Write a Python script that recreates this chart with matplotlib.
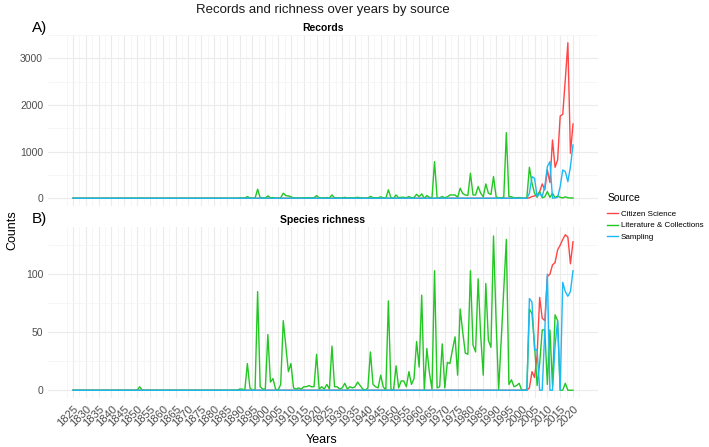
import matplotlib.pyplot as plt
import numpy as np

plt.rcParams['font.family'] = ['Liberation Sans', 'DejaVu Sans']

years = np.arange(1825, 2021)
sources = ['Citizen Science', 'Literature & Collections', 'Sampling']
colors = ['#FF4545', '#22C722', '#1EB8F5']

# Records per year (years not listed are 0)
cit_records = {2003: 10, 2004: 36, 2005: 50, 2006: 70, 2007: 143, 2008: 307, 2009: 178,
               2010: 607, 2011: 335, 2012: 1250, 2013: 664, 2014: 821, 2015: 1764,
               2016: 1800, 2017: 2550, 2018: 3336, 2019: 964, 2020: 1593}
lit_records = {1851: 5, 1890: 5, 1891: 5, 1893: 36, 1894: 5, 1897: 193, 1898: 10, 1899: 5,
               1900: 5, 1901: 50, 1902: 10, 1903: 15, 1904: 2, 1906: 10, 1907: 107, 1908: 57,
               1909: 50, 1910: 30, 1911: 5, 1912: 5, 1913: 8, 1914: 5, 1915: 10, 1916: 10,
               1917: 12, 1918: 10, 1919: 10, 1920: 57, 1921: 5, 1922: 10, 1923: 5, 1924: 15,
               1925: 5, 1926: 71, 1927: 10, 1928: 10, 1929: 5, 1930: 8, 1931: 20, 1932: 5,
               1933: 10, 1934: 8, 1935: 10, 1936: 20, 1937: 10, 1938: 5, 1940: 5, 1941: 40,
               1942: 12, 1943: 10, 1944: 8, 1945: 30, 1946: 10, 1948: 180, 1949: 10,
               1951: 70, 1952: 10, 1953: 20, 1954: 20, 1955: 10, 1956: 36, 1957: 10,
               1958: 15, 1959: 85, 1960: 30, 1961: 93, 1963: 57, 1964: 20, 1965: 5,
               1966: 785, 1967: 10, 1968: 10, 1969: 36, 1970: 10, 1971: 30, 1972: 70,
               1973: 70, 1974: 70, 1975: 20, 1976: 214, 1977: 100, 1978: 70, 1979: 60,
               1980: 535, 1981: 70, 1982: 70, 1983: 250, 1984: 107, 1985: 30, 1986: 307,
               1987: 107, 1988: 80, 1989: 464, 1990: 36, 1992: 10, 1993: 20, 1994: 1407,
               1995: 36, 1996: 30, 1997: 10, 1998: 10, 1999: 15, 2002: 5, 2003: 664,
               2004: 321, 2005: 107, 2006: 20, 2007: 143, 2008: 10, 2009: 30, 2010: 143,
               2011: 20, 2012: 107, 2013: 10, 2014: 50, 2015: 20, 2016: 5, 2017: 30,
               2018: 10, 2019: 5, 2020: 5}
samp_records = {2003: 107, 2004: 464, 2005: 428, 2006: 36, 2007: 107, 2008: 36, 2009: 250,
                2010: 678, 2011: 785, 2013: 10, 2014: 20, 2015: 250, 2016: 607, 2017: 571,
                2018: 357, 2019: 678, 2020: 1143}

# Species richness per year (years not listed are 0)
cit_rich = {2003: 2, 2004: 16, 2005: 11, 2006: 30, 2007: 80, 2008: 62, 2009: 60, 2010: 98,
            2011: 100, 2012: 108, 2013: 110, 2014: 121, 2015: 125, 2016: 130, 2017: 134,
            2018: 132, 2019: 109, 2020: 128}
lit_rich = {1851: 3, 1890: 1, 1891: 1, 1893: 23, 1894: 2, 1897: 85, 1898: 3, 1899: 1,
            1900: 1, 1901: 48, 1902: 7, 1903: 10, 1904: 1, 1906: 5, 1907: 60, 1908: 38,
            1909: 16, 1910: 23, 1911: 2, 1912: 1, 1913: 2, 1914: 1, 1915: 3, 1916: 3,
            1917: 4, 1918: 3, 1919: 3, 1920: 31, 1921: 1, 1922: 3, 1923: 1, 1924: 5,
            1925: 1, 1926: 38, 1927: 3, 1928: 3, 1929: 1, 1930: 2, 1931: 6, 1932: 1,
            1933: 3, 1934: 2, 1935: 3, 1936: 7, 1937: 4, 1938: 1, 1940: 2, 1941: 33,
            1942: 5, 1943: 3, 1944: 2, 1945: 13, 1946: 3, 1948: 77, 1949: 1, 1951: 21,
            1952: 2, 1953: 8, 1954: 8, 1955: 3, 1956: 16, 1957: 5, 1958: 10, 1959: 42,
            1960: 20, 1961: 82, 1963: 36, 1964: 15, 1965: 1, 1966: 103, 1967: 2, 1968: 3,
            1969: 40, 1970: 2, 1971: 24, 1972: 23, 1973: 35, 1974: 46, 1975: 13, 1976: 70,
            1977: 50, 1978: 32, 1979: 31, 1980: 103, 1981: 39, 1982: 33, 1983: 96,
            1984: 47, 1985: 13, 1986: 92, 1987: 43, 1988: 37, 1989: 133, 1990: 60,
            1992: 43, 1993: 87, 1994: 130, 1995: 5, 1996: 9, 1997: 3, 1998: 4, 1999: 6,
            2002: 1, 2003: 70, 2004: 66, 2005: 39, 2006: 4, 2007: 23, 2008: 52, 2009: 52,
            2010: 5, 2011: 52, 2012: 4, 2013: 65, 2014: 60, 2016: 0, 2017: 6}
samp_rich = {2003: 79, 2004: 76, 2005: 35, 2006: 35, 2009: 52, 2010: 100, 2013: 38,
             2014: 60, 2016: 93, 2017: 85, 2018: 81, 2019: 85, 2020: 103}


def series(d):
    return np.array([d.get(y, 0) for y in years])


fig = plt.figure(figsize=(7.09, 4.47), dpi=100)
W, H = 709, 447
grey = '#4D4D4D'


def panel(rect, data, title, ymajor, yminor):
    ax = fig.add_axes(rect)
    for d, c in zip(data, colors):
        ax.plot(years, series(d), color=c, linewidth=1.0)
    top = max(series(d).max() for d in data)
    ax.set_ylim(-0.05 * top, top * 1.05)
    ax.set_xlim(1825 - 9.75, 2020 + 9.75)
    ax.set_xticks(np.arange(1825, 2021, 5))
    ax.set_xticks(np.arange(1822.5, 2025, 5), minor=True)
    ax.set_yticks(ymajor)
    ax.set_yticks(yminor, minor=True)
    ax.grid(True, which='major', color='#EBEBEB', linewidth=0.8)
    ax.grid(True, which='minor', color='#F3F3F3', linewidth=0.5)
    ax.set_axisbelow(True)
    for s in ax.spines.values():
        s.set_visible(False)
    ax.tick_params(which='both', length=0, colors=grey, labelsize=7.5)
    ax.set_title(title, fontsize=7.5, fontweight='bold', pad=3)
    return ax


ax1 = panel([48 / W, 1 - 206 / H, 550 / W, 171 / H],
            [cit_records, lit_records, samp_records], 'Records',
            [0, 1000, 2000, 3000], [500, 1500, 2500, 3500])
ax1.set_xticklabels([])

ax2 = panel([48 / W, 1 - 398 / H, 550 / W, 171 / H],
            [cit_rich, lit_rich, samp_rich], 'Species richness',
            [0, 50, 100], [25, 75, 125])
ax2.set_xticklabels([str(y) for y in np.arange(1825, 2021, 5)],
                    rotation=45, ha='right', va='top', rotation_mode='anchor', fontsize=8)
ax2.tick_params(axis='x', pad=4)

fig.text(323 / W, 1 - 10 / H, 'Records and richness over years by source',
         ha='center', va='center', fontsize=9.5, color='#1A1A1A')
fig.text(32 / W, 1 - 28 / H, 'A)', ha='left', va='center', fontsize=11)
fig.text(32 / W, 1 - 219 / H, 'B)', ha='left', va='center', fontsize=11)
fig.text(12 / W, 1 - 230 / H, 'Counts', rotation=90, ha='center', va='center', fontsize=9)
fig.text(322 / W, 1 - 440 / H, 'Years', ha='center', va='center', fontsize=9)

handles = [plt.Line2D([], [], color=c, linewidth=1.0) for c in colors]
leg = fig.legend(handles, sources, title='Source', loc='upper left',
                 bbox_to_anchor=(604 / W, 1 - 190 / H), frameon=False,
                 fontsize=5.8, title_fontsize=7.5, handlelength=1.3,
                 handletextpad=0.4, labelspacing=0.5, borderaxespad=0)
leg._legend_box.align = 'left'
leg._legend_box.sep = 5

fig.savefig('out.png', dpi=100)
